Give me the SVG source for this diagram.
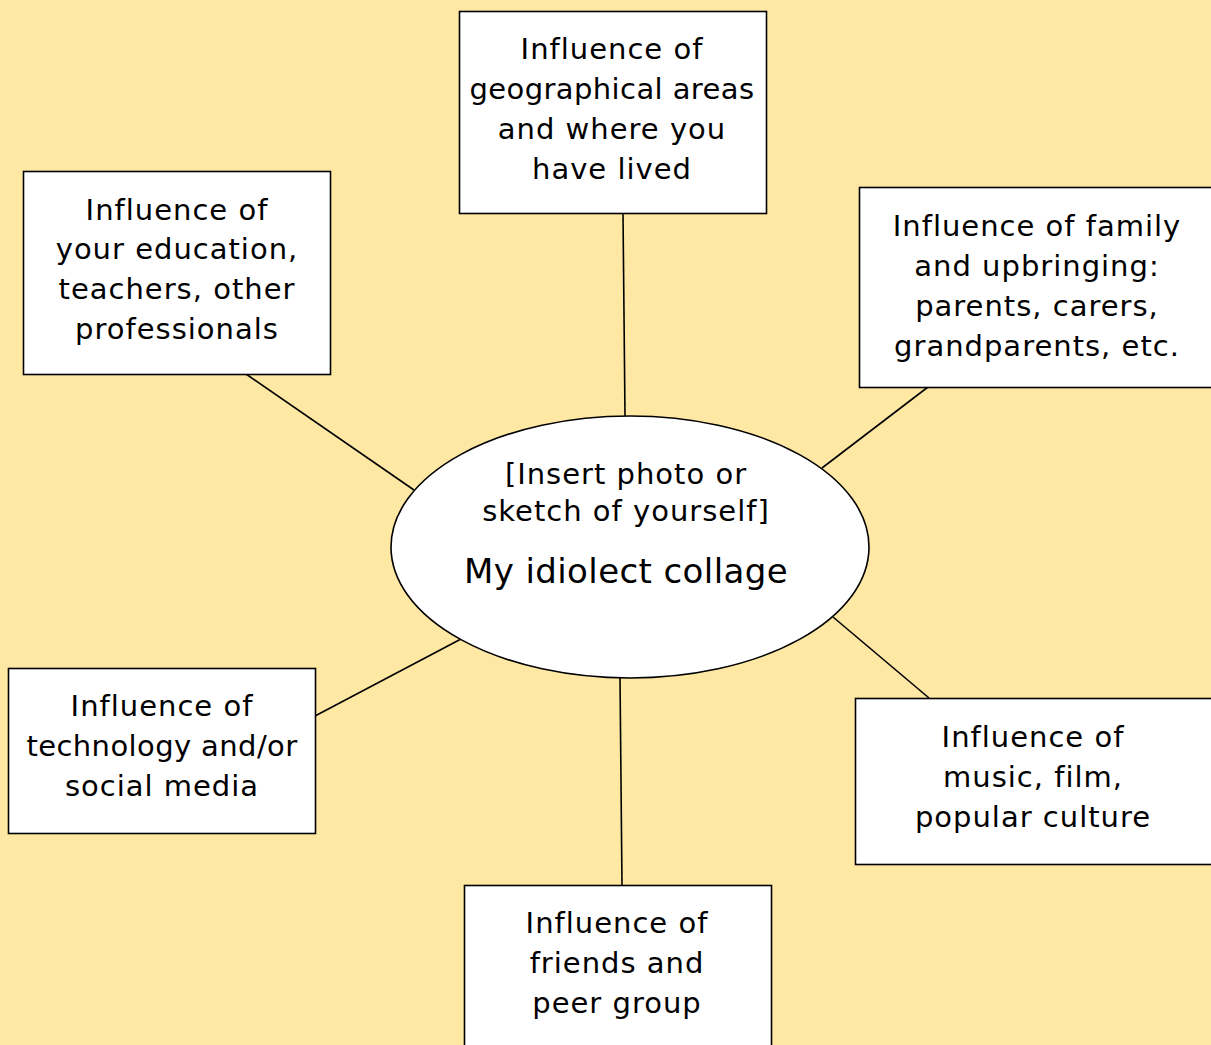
<svg xmlns="http://www.w3.org/2000/svg" width="1211" height="1045" viewBox="0 0 1211 1045">
<style>
.box{fill:#fff;stroke:#000;stroke-width:1.6}
.t{font-family:"DejaVu Sans","Liberation Sans",sans-serif;font-size:29px;letter-spacing:1px;text-anchor:middle;fill:#000}
.tight{letter-spacing:0.4px}
.big{font-size:34px;letter-spacing:0.4px}
.c line{stroke:#000;stroke-width:1.6}
</style>
<rect width="1211" height="1045" fill="#FEE8A4"/>
<g class="c" id="connectors">
<line x1="623" y1="213" x2="625" y2="416"/>
<line x1="246" y1="374" x2="414" y2="490"/>
<line x1="928" y1="387" x2="822" y2="468"/>
<line x1="315" y1="716" x2="461" y2="639"/>
<line x1="929" y1="698" x2="833" y2="617"/>
<line x1="620" y1="678" x2="622" y2="885"/>
</g>
<g id="center">
<ellipse cx="630" cy="547" rx="239" ry="131" class="box"/>
<text class="t" x="626" y="484">[Insert photo or</text>
<text class="t" x="626" y="521">sketch of yourself]</text>
<text class="t big" x="626" y="583">My idiolect collage</text>
</g>
<g id="geo">
<rect x="459.5" y="11.5" width="307" height="202" class="box"/>
<text class="t" x="612" y="59">Influence of</text>
<text class="t tight" x="612" y="99">geographical areas</text>
<text class="t" x="612" y="139">and where you</text>
<text class="t" x="612" y="179">have lived</text>
</g>
<g id="education">
<rect x="23.5" y="171.5" width="307" height="203" class="box"/>
<text class="t" x="177" y="220">Influence of</text>
<text class="t" x="177" y="259">your education,</text>
<text class="t" x="177" y="299">teachers, other</text>
<text class="t" x="177" y="339">professionals</text>
</g>
<g id="family">
<rect x="859.5" y="187.5" width="360" height="200" class="box"/>
<text class="t" x="1037" y="236">Influence of family</text>
<text class="t" x="1037" y="276">and upbringing:</text>
<text class="t" x="1037" y="316">parents, carers,</text>
<text class="t" x="1037" y="356">grandparents, etc.</text>
</g>
<g id="technology">
<rect x="8.5" y="668.5" width="307" height="165" class="box"/>
<text class="t" x="162" y="716">Influence of</text>
<text class="t tight" x="162" y="756">technology and/or</text>
<text class="t" x="162" y="796">social media</text>
</g>
<g id="music">
<rect x="855.5" y="698.5" width="365" height="166" class="box"/>
<text class="t" x="1033" y="747">Influence of</text>
<text class="t" x="1033" y="787">music, film,</text>
<text class="t" x="1033" y="827">popular culture</text>
</g>
<g id="friends">
<rect x="464.5" y="885.5" width="307" height="170" class="box"/>
<text class="t" x="617" y="933">Influence of</text>
<text class="t" x="617" y="973">friends and</text>
<text class="t" x="617" y="1013">peer group</text>
</g>
</svg>
